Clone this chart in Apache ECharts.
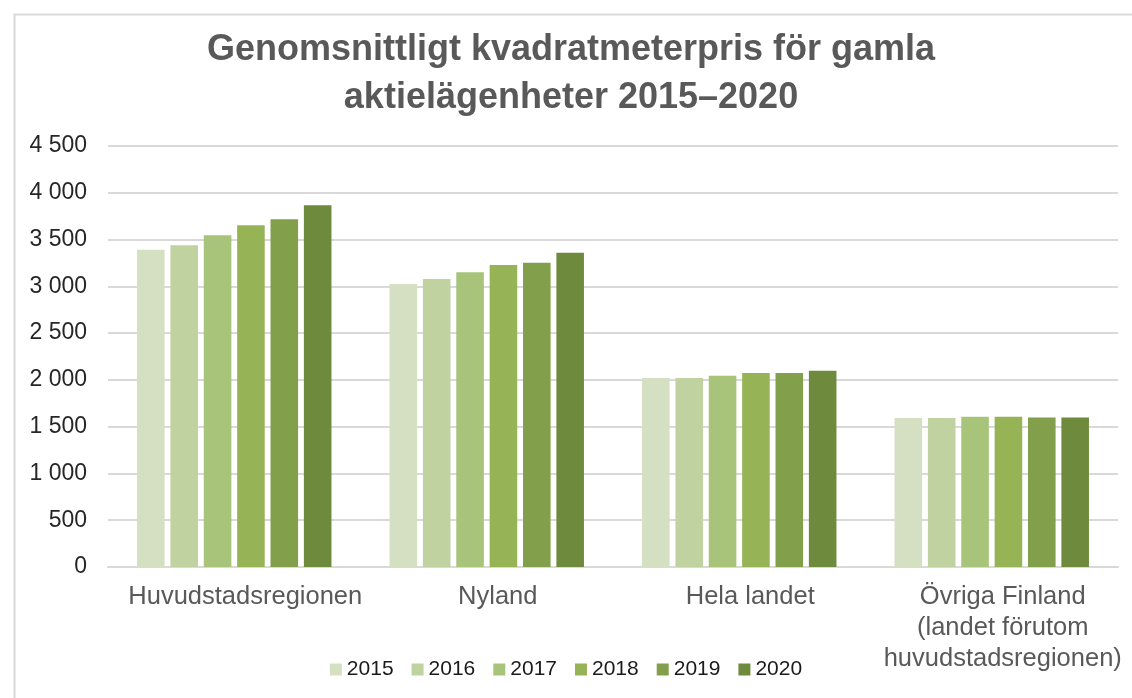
<!DOCTYPE html>
<html>
<head>
<meta charset="utf-8">
<title>Kvadratmeterpris</title>
<script src="https://cdn.jsdelivr.net/npm/echarts@6/dist/echarts.min.js"></script>
<style>
  html,
  body {
    margin: 0;
    padding: 0;
    background: #fff;
  }
  #chart {
    width: 1132px;
    height: 698px;
  }
</style>
</head>
<body>
<div id="chart"></div>
<script>
// data
const regions = [
  "Huvudstadsregionen",
  "Nyland",
  "Hela landet",
  "Övriga Finland\n(landet förutom\nhuvudstadsregionen)"
]
const years = ["2015", "2016", "2017", "2018", "2019", "2020"]
const y2015 = [3390, 3025, 2020, 1593]
const y2016 = [3440, 3078, 2020, 1593]
const y2017 = [3545, 3150, 2045, 1607]
const y2018 = [3652, 3228, 2074, 1607]
const y2019 = [3716, 3252, 2074, 1597]
const y2020 = [3866, 3359, 2098, 1597]
const yTicks = [0, 500, 1000, 1500, 2000, 2500, 3000, 3500, 4000, 4500]

const values = [y2015, y2016, y2017, y2018, y2019, y2020]
const colors = ["#d5e0c2", "#c0d29f", "#a8c47b", "#96b356", "#82a04b", "#6e8b3d"]

const font = "'Liberation Sans', Arial, sans-serif"

let series = years.map((year, i) => {
  return {
    name: year,
    type: "bar",
    data: values[i],
    barGap: "21%",
    barCategoryGap: "23%",
    itemStyle: {
      color: colors[i]
    }
  }
})

let option = {
  animation: false,
  color: colors,
  textStyle: {
    fontFamily: font
  },
  graphic: [
    {
      // thin frame round the chart, only left and top edges are visible
      type: "rect",
      left: 12,
      top: 12,
      shape: { width: 1200, height: 800 },
      style: { fill: "none", stroke: "#d9d9d9", lineWidth: 2 },
      silent: true
    }
  ],
  title: {
    text: "Genomsnittligt kvadratmeterpris för gamla\naktielägenheter 2015–2020",
    left: 566,
    textAlign: "center",
    top: 21,
    textStyle: {
      fontFamily: font,
      fontSize: 36,
      fontWeight: "bold",
      color: "#595959",
      lineHeight: 48
    }
  },
  legend: {
    data: years,
    left: "center",
    top: 654,
    itemWidth: 12,
    itemHeight: 12,
    itemGap: 18,
    icon: "rect",
    textStyle: {
      fontFamily: font,
      fontSize: 21,
      color: "#1a1a1a"
    }
  },
  grid: {
    left: 108,
    right: 14,
    top: 146,
    bottom: 131,
    containLabel: false
  },
  xAxis: {
    type: "category",
    data: regions,
    axisTick: { show: false },
    axisLine: {
      lineStyle: { color: "#d9d9d9", width: 2 }
    },
    axisLabel: {
      interval: 0,
      margin: 14,
      fontFamily: font,
      fontSize: 25.5,
      lineHeight: 31,
      color: "#595959",
      padding: [0, 0, 0, 22]
    }
  },
  yAxis: {
    type: "value",
    min: yTicks[0],
    max: yTicks[yTicks.length - 1],
    interval: yTicks[1] - yTicks[0],
    axisLine: { show: false },
    axisTick: { show: false },
    splitLine: {
      lineStyle: { color: "#d9d9d9", width: 2 }
    },
    axisLabel: {
      margin: 21,
      fontFamily: font,
      fontSize: 23,
      color: "#262626",
      formatter: function (v) {
        return String(v).replace(/\B(?=(\d{3})+(?!\d))/g, " ")
      }
    }
  },
  series: series
}

const myChart = echarts.init(document.getElementById("chart"), null, { renderer: "canvas" })
myChart.setOption(option)
window.addEventListener("resize", function () {
  myChart.resize()
})
</script>
</body>
</html>
